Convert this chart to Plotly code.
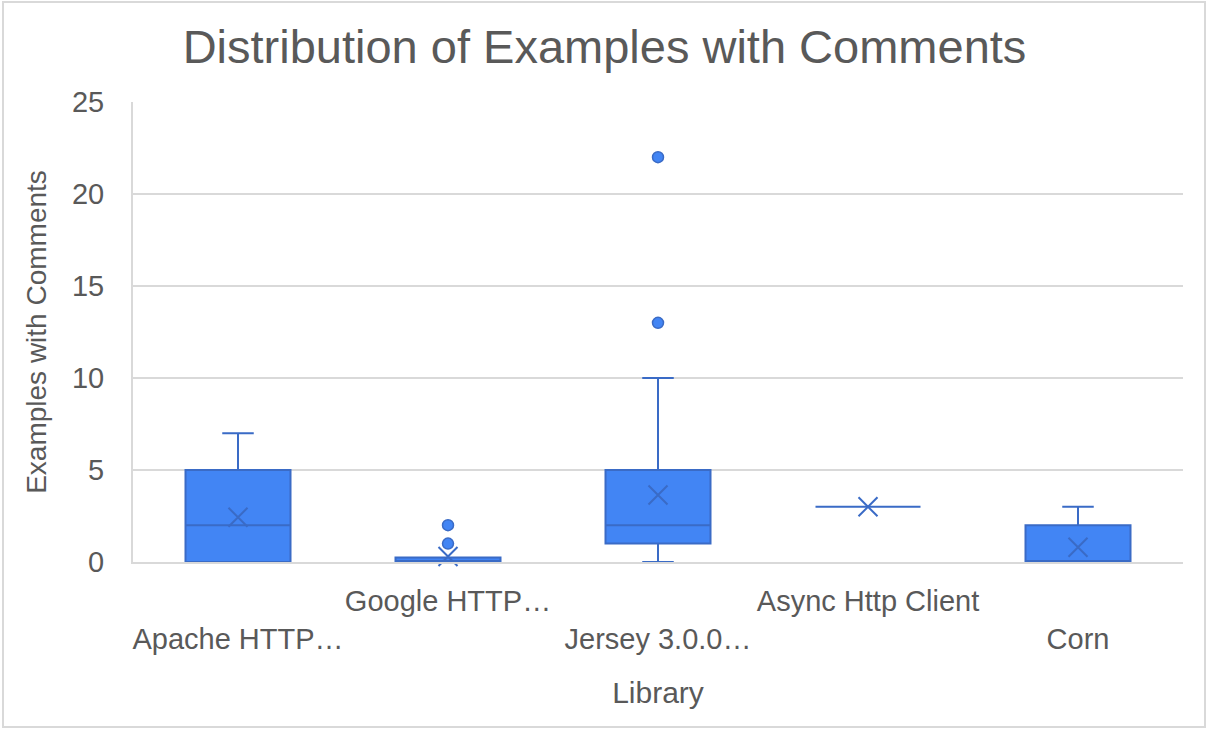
import plotly.graph_objects as go

# ---- data ----
categories = ["Apache HTTP…", "Google HTTP…", "Jersey 3.0.0…", "Async Http Client", "Corn"]
q1 = [0, 0, 1, 3, 0]
median = [2, 0, 2, 3, 0]
q3 = [5, 0.25, 5, 3, 2]
lower_whisker = [0, 0, 0, 3, 0]
upper_whisker = [7, 0.25, 10, 3, 3]
means = [2.43, 0.3, 3.64, 3, 0.8]
outlier_cat = ["Google HTTP…", "Google HTTP…", "Jersey 3.0.0…", "Jersey 3.0.0…"]
outlier_val = [1, 2, 13, 22]
y_ticks = [0, 5, 10, 15, 20, 25]

FILL = "#4285F4"
EDGE = "#3A6BC6"
TEXT = "#595959"
GRID = "#D9D9D9"
FONT = "Liberation Sans, Arial, sans-serif"

# staggered category labels (Excel style)
ticktext = [("<br>" + c) if i % 2 == 0 else c for i, c in enumerate(categories)]

fig = go.Figure()
fig.add_trace(go.Box(
    x=categories, q1=q1, median=median, q3=q3,
    lowerfence=lower_whisker, upperfence=upper_whisker,
    fillcolor=FILL, line=dict(color=EDGE, width=2),
    whiskerwidth=0.3, width=0.5, boxpoints=False, showlegend=False,
))
fig.add_trace(go.Scatter(
    x=outlier_cat, y=outlier_val, mode="markers",
    marker=dict(color=FILL, size=11, line=dict(color=EDGE, width=1.5)),
    showlegend=False, cliponaxis=False,
))
fig.add_trace(go.Scatter(
    x=categories, y=means, mode="markers",
    marker=dict(symbol="x-thin", size=19, line=dict(color=EDGE, width=2)),
    showlegend=False, cliponaxis=False,
))

L, R, T, B = 133, 26, 102, 171
W, H = 1209, 733
pw, ph = W - L - R, H - T - B

def px2x(px):
    return (px - L) / pw

def py2y(py):
    return (H - B - py) / ph

fig.update_layout(
    width=W, height=H,
    margin=dict(l=L, r=R, t=T, b=B, autoexpand=False),
    paper_bgcolor="white", plot_bgcolor="white",
    font=dict(family=FONT, color=TEXT),
    title=dict(text="Distribution of Examples with Comments",
               font=dict(size=47, color=TEXT, family=FONT),
               x=0.5, xanchor="center", xref="container",
               y=1 - 47 / H, yref="container", yanchor="middle"),
    xaxis=dict(
        categoryorder="array", categoryarray=categories,
        tickvals=categories, ticktext=ticktext, tickangle=0,
        tickfont=dict(size=29, color=TEXT, family=FONT),
        showgrid=False, showline=True, linecolor=GRID, linewidth=2,
        ticks="", ticklabelstandoff=12,
        title=dict(text="Library", font=dict(size=30, color=TEXT, family=FONT), standoff=28),
        range=[-0.5, 4.5],
    ),
    yaxis=dict(
        range=[0, 25], tickvals=y_ticks,
        tickfont=dict(size=29, color=TEXT, family=FONT),
        showgrid=True, gridcolor=GRID, gridwidth=2,
        zeroline=False, showline=True, linecolor=GRID, linewidth=2,
        ticks="", ticklabelstandoff=21,
        title=dict(text="Examples with Comments", font=dict(size=28, color=TEXT, family=FONT), standoff=17),
    ),
    shapes=[dict(type="rect", xref="paper", yref="paper",
                 x0=px2x(3), x1=px2x(1205), y0=py2y(727), y1=py2y(2),
                 line=dict(color=GRID, width=2), fillcolor="rgba(0,0,0,0)", layer="below")],
)

fig.write_html("out.html", config={"displayModeBar": False},
               post_script="document.body.style.margin='0';")
